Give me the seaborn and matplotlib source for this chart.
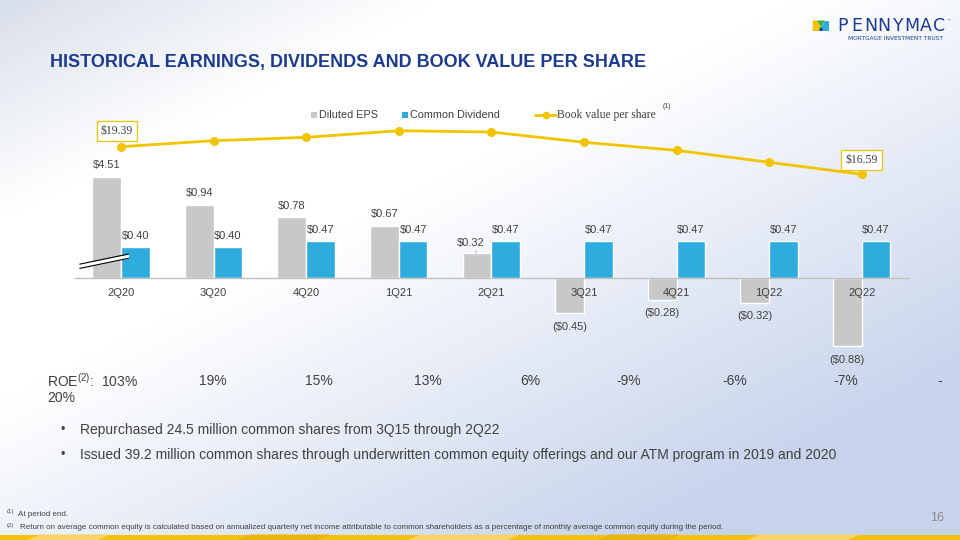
import numpy as np
import pandas as pd
import matplotlib
matplotlib.use("Agg")
import matplotlib.pyplot as plt
import seaborn as sns
from matplotlib.patches import Rectangle, Polygon
from matplotlib.lines import Line2D

# ---------------- data ----------------
quarters = ["2Q20", "3Q20", "4Q20", "1Q21", "2Q21", "3Q21", "4Q21", "1Q22", "2Q22"]
diluted_eps = [4.51, 0.94, 0.78, 0.67, 0.32, -0.45, -0.28, -0.32, -0.88]
common_dividend = [0.40, 0.40, 0.47, 0.47, 0.47, 0.47, 0.47, 0.47, 0.47]
book_value = [19.39, 20.00, 20.34, 21.01, 20.88, 19.84, 19.02, 17.81, 16.59]
roe_values = ["19%", "15%", "13%", "6%", "-9%", "-6%", "-7%"]
series_names = ["Diluted EPS", "Common Dividend"]
EPS_AXIS_BREAK = 1.30  # the 2Q20 EPS bar is drawn with a broken axis

GRAY = "#C8C8C8"
BLUE = "#2EACDD"
GOLD = "#F2C400"
TXT = "#404040"
NAVY = "#1C3A8E"

sns.set_style("white")
plt.rcParams["font.family"] = ["Liberation Sans", "DejaVu Sans"]
plt.rcParams["mathtext.fontset"] = "custom"
plt.rcParams["mathtext.rm"] = "Liberation Sans"

W, H = 960, 540
fig = plt.figure(figsize=(9.6, 5.4), dpi=100)


def P(x, y):
    return x / W, 1 - y / H


# ---------------- background gradient ----------------
gx, gy = np.meshgrid(np.linspace(0, 1, 192), np.linspace(0, 1, 108))
t1 = np.clip((gx * 0.9 + gy * 1.0 - 0.75) / 0.85, 0, 1)
t2 = np.clip(1 - (gx / 0.45 + gy / 0.4), 0, 1)
br = np.array([0.78, 0.83, 0.925])
tl = np.array([0.85, 0.875, 0.92])
rgb = np.ones((108, 192, 3))
rgb = rgb - t1[..., None] * (1 - br) - t2[..., None] * (1 - tl)
rgb = np.clip(rgb, 0, 1)
bg = fig.add_axes([0, 0, 1, 1], zorder=-10)
bg.imshow(rgb, extent=[0, 1, 0, 1], aspect="auto", origin="upper", interpolation="bilinear")
bg.axis("off")

# ---------------- bars ----------------
ax = fig.add_axes([74.7 / W, 1 - 370 / H, (908 - 74.7) / W, 270 / H])
ax.set_facecolor("none")
df = pd.DataFrame({
    "Quarter": quarters * 2,
    "Series": [series_names[0]] * len(quarters) + [series_names[1]] * len(quarters),
    "Value": diluted_eps + common_dividend,
})
df["Drawn"] = df["Value"].clip(upper=EPS_AXIS_BREAK)
sns.barplot(data=df, x="Quarter", y="Drawn", hue="Series", hue_order=series_names,
            palette=[GRAY, BLUE], width=0.62, gap=0, saturation=1, legend=False,
            errorbar=None, ax=ax)
ax.set_axisbelow(False)
ax.set_xlim(-0.5, 8.5)
ax.set_ylim(-1.184, 2.291)
for s in ["top", "left", "right"]:
    ax.spines[s].set_visible(False)
ax.spines["bottom"].set_position(("data", 0))
ax.spines["bottom"].set_color("#BFBFBF")
ax.spines["bottom"].set_linewidth(1.0)
ax.set_xlabel("")
ax.set_ylabel("")
ax.set_yticks([])
ax.tick_params(axis="x", length=0, pad=7, labelsize=8, labelcolor=TXT)

off = 0.155
for i, v in enumerate(diluted_eps):
    h = min(v, EPS_AXIS_BREAK)
    txt = f"${v:.2f}" if v >= 0 else f"(${-v:.2f})"
    if 0 < v < 0.4:
        ax.annotate(txt, (i - off, h), xytext=(-4.5, 7.6), textcoords="offset points",
                    ha="center", va="center", fontsize=8, color=TXT,
                    arrowprops=dict(arrowstyle="-", color="#A0A0A0", lw=0.5,
                                    shrinkA=0, shrinkB=0))
    else:
        ax.annotate(txt, (i - off, h), xytext=(0, 8.4 if v >= 0 else -9.8),
                    textcoords="offset points", ha="center", va="center",
                    fontsize=8, color=TXT, annotation_clip=False)
for i, v in enumerate(common_dividend):
    ax.annotate(f"${v:.2f}", (i + off, v), xytext=(0, 8.0), textcoords="offset points",
                ha="center", va="center", fontsize=8, color=TXT)

# axis-break symbol on the 2Q20 EPS bar
bx = np.array([-0.445, 0.08])
by = EPS_AXIS_BREAK * np.array([0.095, 0.195])
band = 0.055
ax.fill_between(bx, by, by + band, color="white", zorder=5, lw=0)
ax.plot(bx, by, color="black", lw=0.8, zorder=6)
ax.plot(bx, by + band, color="black", lw=0.8, zorder=6)

# ---------------- book value line ----------------
ax2 = ax.twinx()
sns.lineplot(x=np.arange(len(quarters)), y=book_value, ax=ax2, color=GOLD, lw=2,
             marker="o", markersize=6.5, markeredgewidth=0)
ax2.set_ylim(-3.264, 24.128)
ax2.axis("off")
for i, dx, dy in [(0, -2.9, 11.3), (len(book_value) - 1, 0, 10.5)]:
    ax2.annotate(f"${book_value[i]:.2f}", (i, book_value[i]), xytext=(dx, dy),
                 textcoords="offset points", ha="center", va="center",
                 fontsize=8.5, color=TXT, family="Liberation Serif",
                 bbox=dict(boxstyle="square,pad=0.35", fc="white", ec=GOLD, lw=0.9))

# ---------------- legend ----------------
x0, y0 = P(311, 118)
fig.add_artist(Rectangle((x0, y0), 6 / W, 6 / H, transform=fig.transFigure, color=GRAY, lw=0))
fig.text(*P(319, 115), series_names[0], fontsize=7.8, color=TXT, va="center")
x0, y0 = P(401.5, 118)
fig.add_artist(Rectangle((x0, y0), 6 / W, 6 / H, transform=fig.transFigure, color=BLUE, lw=0))
fig.text(*P(410, 115), series_names[1], fontsize=7.8, color=TXT, va="center")
(lx0, ly), (lx1, _) = P(535, 115), P(556, 115)
fig.add_artist(Line2D([lx0, lx1], [ly, ly], transform=fig.transFigure, color=GOLD, lw=2))
fig.add_artist(Line2D([(lx0 + lx1) / 2], [ly], transform=fig.transFigure, color=GOLD,
                      marker="o", markersize=5.5, markeredgewidth=0))
fig.text(*P(557, 115), "Book value per share", fontsize=8.4, color=TXT, va="center",
         family="Liberation Serif")
fig.text(*P(667, 106), "(1)", fontsize=5, color=TXT, va="center", ha="center")

# ---------------- title & logo ----------------
fig.text(*P(50, 62), "HISTORICAL EARNINGS, DIVIDENDS AND BOOK VALUE PER SHARE",
         fontsize=13, fontweight="bold", color=NAVY, va="center")

def poly(pts, color):
    fig.add_artist(Polygon([P(x, y) for x, y in pts], closed=True,
                           transform=fig.transFigure, color=color, lw=0))

poly([(812.7, 20.5), (817, 20.5), (821, 27), (821, 31), (812.7, 31)], "#F2C400")
poly([(817, 20.5), (825, 20.5), (821, 27)], "#3DAE49")
poly([(825, 20.5), (829.3, 20.5), (829.3, 31), (821, 31), (821, 27)], "#2EACDD")
poly([(819.5, 31), (819.5, 28.5), (821, 27.2), (822.5, 28.5), (822.5, 31)], "#1C3A8E")
logo = "PENNYMAC"
for k, ch in enumerate(logo):
    fig.text(*P(836 + (k + 0.5) * 110 / len(logo), 26), ch, fontsize=12.5, color=NAVY,
             ha="center", va="center", family="DejaVu Sans")
fig.text(*P(948, 21), "™", fontsize=3, color=NAVY, ha="center", va="center",
         family="DejaVu Sans")
fig.text(*P(847.5, 38.7), "MORTGAGE INVESTMENT TRUST", fontsize=4.2, color=NAVY,
         va="center", family="DejaVu Sans")

# ---------------- ROE row ----------------
fig.text(*P(47, 381), r"ROE$^{(2)}$:  103%", fontsize=10, color=TXT, va="center")
roe_x = [213, 319, 428, 530, 629, 735, 846]
for x, r in zip(roe_x, roe_values):
    fig.text(*P(x, 381), r, fontsize=10, color=TXT, va="center", ha="center")
fig.text(*P(940, 381), "-", fontsize=10, color=TXT, va="center", ha="center")
fig.text(*P(47, 398), "20%", fontsize=10, color=TXT, va="center")

# ---------------- bullets ----------------
bullets = ["Repurchased 24.5 million common shares from 3Q15 through 2Q22",
           "Issued 39.2 million common shares through underwritten common equity offerings and our ATM program in 2019 and 2020"]
for y, b in zip([430, 455], bullets):
    fig.text(*P(63, y), "•", fontsize=9, color=TXT, va="center", ha="center")
    fig.text(*P(80, y), b, fontsize=10, color=TXT, va="center")

# ---------------- footnotes ----------------
fig.text(*P(7, 512), "(1)", fontsize=4.2, color=TXT, va="center")
fig.text(*P(18, 514), "At period end.", fontsize=5.75, color=TXT, va="center")
fig.text(*P(7, 525), "(2)", fontsize=4.2, color=TXT, va="center")
fig.text(*P(20, 527.5),
         "Return on average common equity is calculated based on annualized quarterly net income attributable to common shareholders as a percentage of monthly average common equity during the period.",
         fontsize=5.75, color=TXT, va="center")
fig.text(*P(937, 518), "16", fontsize=9, color="#8C8C8C", va="center", ha="center")

# ---------------- bottom stripe ----------------
sx, sy = P(0, 540)
fig.add_artist(Rectangle((sx, sy), 1, 5.5 / H, transform=fig.transFigure, color="#F4C20D", lw=0))
for a, b, c in [(40, 110, "#F8D466"), (250, 330, "#EAB40A"), (420, 520, "#F8D466"),
                (610, 680, "#EAB40A"), (760, 860, "#F8D466")]:
    poly([(a, 534.5), (b, 534.5), (b - 12, 540), (a - 12, 540)], c)

fig.savefig("out.png", dpi=100)
